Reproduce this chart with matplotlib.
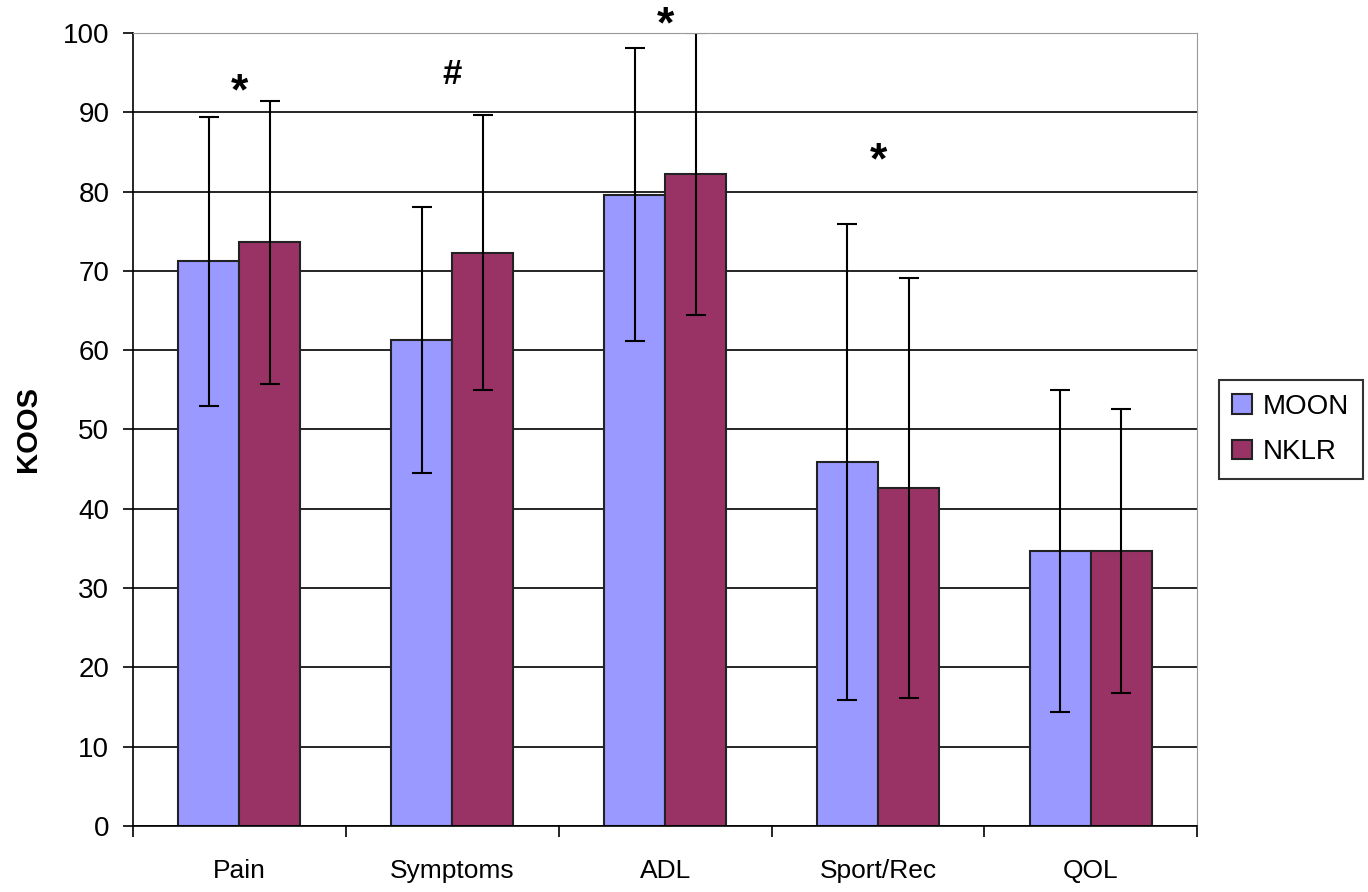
import numpy as np
import matplotlib.pyplot as plt

plt.rcParams['font.family'] = ['Liberation Sans', 'DejaVu Sans']

categories = ["Pain", "Symptoms", "ADL", "Sport/Rec", "QOL"]
moon = [71.2, 61.3, 79.6, 45.9, 34.7]
moon_sd = [18.2, 16.8, 18.5, 30.0, 20.3]
nklr = [73.6, 72.3, 82.2, 42.6, 34.7]
nklr_sd = [17.8, 17.3, 17.8, 26.5, 17.9]
marks = ["*", "#", "*", "*"]
mark_x = [0, 1, 2, 3]
mark_y = [92.4, 94.8, 100.9, 83.7]

fig = plt.figure(figsize=(13.68, 8.92), dpi=100)
ax = fig.add_axes([0.0972, 0.074, 0.778, 0.889])

x = np.arange(len(categories))
w = 0.287
err = dict(ecolor="black", elinewidth=1.5, capsize=7, capthick=1.5)
ax.bar(x - w / 2, moon, w, yerr=moon_sd, color="#9999FF", edgecolor="#222222",
       linewidth=1.5, label="MOON", error_kw=err, zorder=2)
ax.bar(x + w / 2, nklr, w, yerr=nklr_sd, color="#993366", edgecolor="#222222",
       linewidth=1.5, label="NKLR", error_kw=err, zorder=2)

for m, mx, my in zip(marks, mark_x, mark_y):
    fs = 32 if m == "*" else 25
    ax.text(mx, my, m, ha="center", va="center", fontsize=fs, fontweight="bold",
            clip_on=False)

ax.set_xlim(-0.5, len(categories) - 0.5)
ax.set_ylim(0, 100)
ax.set_yticks(np.arange(0, 101, 10))
ax.tick_params(axis="y", labelsize=20, length=7, width=1.2, direction="out", pad=10)
ax.set_xticks(x)
ax.set_xticklabels(categories, fontsize=19)
ax.set_xticks(np.arange(-0.5, len(categories), 1), minor=True)
ax.tick_params(axis="x", which="major", length=0, pad=24)
ax.tick_params(axis="x", which="minor", length=8, width=1.2, direction="out")
ax.yaxis.grid(True, color="black", linewidth=1.2, zorder=0)
ax.set_axisbelow(True)
for s in ["top", "right"]:
    ax.spines[s].set_color("#999999")
for s in ["left", "bottom"]:
    ax.spines[s].set_linewidth(1.2)
ax.set_ylabel("KOOS", fontsize=21, fontweight="bold", labelpad=15)

leg = ax.legend(loc="center left", bbox_to_anchor=(1.02, 0.5), borderaxespad=0,
                fontsize=20, frameon=True, fancybox=False, edgecolor="black",
                handlelength=0.7, handleheight=0.7, handletextpad=0.4,
                borderpad=0.5, labelspacing=0.7)
leg.get_frame().set_linewidth(1.5)

fig.savefig("out.png", dpi=100)
